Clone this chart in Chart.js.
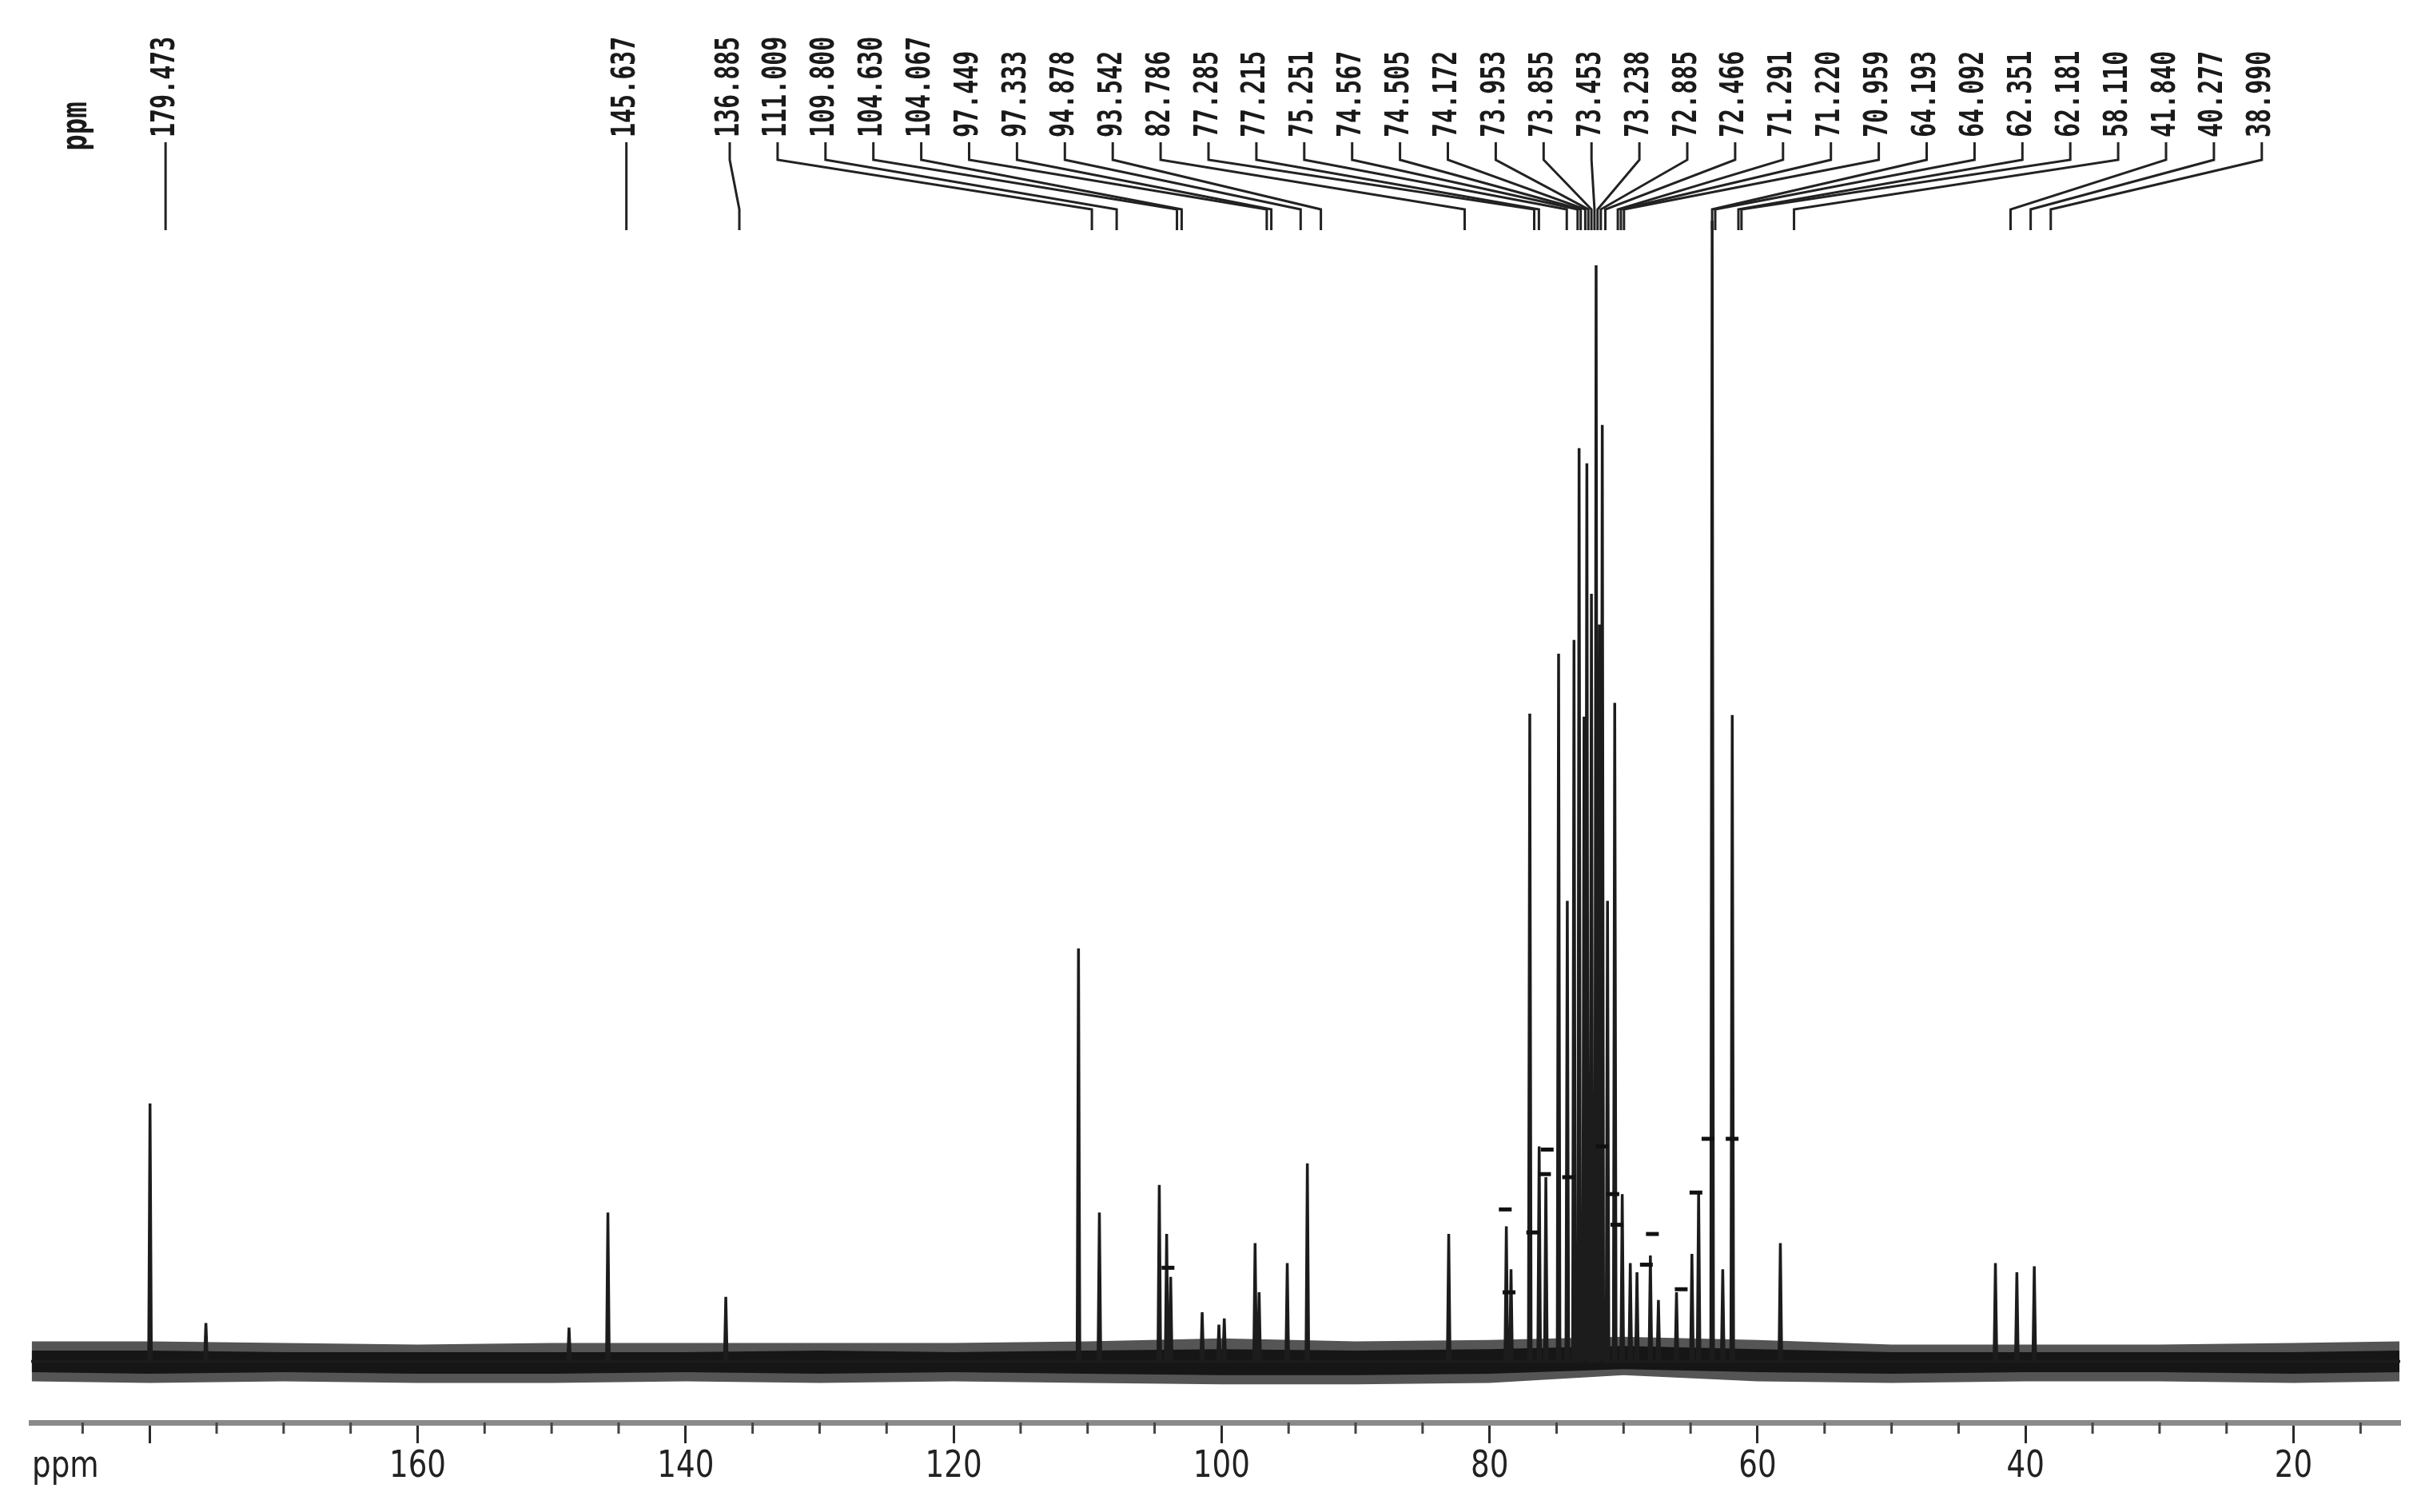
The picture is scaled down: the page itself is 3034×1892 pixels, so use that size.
<!DOCTYPE html>
<html>
<head>
<meta charset="utf-8">
<script src="https://cdn.jsdelivr.net/npm/chart.js@4.4.1/dist/chart.umd.min.js"></script>
<style>
html,body{margin:0;padding:0;background:#ffffff;}
#wrap{width:3034px;height:1892px;position:relative;background:#ffffff;}
</style>
</head>
<body>
<div id="wrap"><canvas id="c" width="3034" height="1892" style="width:3034px;height:1892px"></canvas></div>
<script>
// ---------------- data (ppm, intensity in arbitrary units) ----------------
const axisLeftPpm = 188.84;
const axisRightPpm = 12.04;
const majorTickValues = [180, 160, 140, 120, 100, 80, 60, 40, 20];
const tickLabels = {160:'160', 140:'140', 120:'120', 100:'100', 80:'80', 60:'60', 40:'40', 20:'20'};
const minorTickValues = [185,175,170,165,155,150,145,135,130,125,115,110,105,95,90,85,75,70,65,55,50,45,35,30,25,15];

const peakPpm = [179.97, 175.8, 148.7, 145.8, 137.0, 110.68, 109.12, 104.65, 104.1, 103.8,
                 101.45, 100.2, 99.8, 97.5, 97.2, 95.1, 93.6, 83.05, 78.75, 78.4,
                 77.0, 76.3, 75.8, 74.85, 74.2, 73.7, 73.32, 72.95, 72.74, 72.4,
                 72.05, 71.8, 71.59, 71.2, 70.66, 70.1, 69.5, 69.0, 68.0, 67.4,
                 66.05, 64.9, 64.4, 63.39, 62.6, 61.89, 58.3, 42.25, 40.65, 39.35];
const peakHeight = [168, 25, 22, 97, 42, 269, 97, 115, 83, 55,
                    32, 24, 28, 77, 45, 64, 129, 83, 88, 60,
                    422, 140, 120, 461, 300, 470, 595, 420, 585, 500,
                    714, 480, 610, 300, 429, 109, 64, 58, 69, 40,
                    45, 70, 111, 743, 60, 421, 77, 64, 58, 62];

const markerPpm = [104.0, 78.83, 78.55, 76.78, 75.9, 75.7, 74.1, 71.6, 70.8, 70.5, 68.3, 67.85, 65.7, 64.6, 63.7, 61.9];
const markerHeight = [61, 99, 45, 84, 122, 138, 120, 140, 109, 89, 63, 83, 47, 110, 145, 145];

// baseline noise envelope (outer) and dense core (inner)
const noisePpm        = [188.8, 180, 170, 160, 150, 140, 130, 120, 110, 100, 90, 80, 70, 60, 50, 40, 30, 20, 12.1];
const noiseUpper      = [13, 13, 12, 11, 12, 12, 12, 12, 13, 15, 13, 14, 16, 14, 11, 11, 11, 12, 13];
const noiseLower      = [-13, -14, -13, -14, -14, -13, -14, -13, -14, -15, -15, -14, -9, -13, -14, -13, -13, -14, -13];
const noiseInnerUpper = [7, 7, 6, 6, 6, 6, 7, 6, 7, 8, 7, 8, 10, 8, 6, 6, 6, 6, 7];
const noiseInnerLower = [-7, -8, -7, -8, -8, -7, -8, -7, -8, -9, -9, -8, -5, -7, -8, -7, -7, -8, -7];

const labelValues = ['179.473','145.637','136.885','111.009','109.800','104.630','104.067','97.449','97.333','94.878',
                     '93.542','82.786','77.285','77.215','75.251','74.567','74.505','74.172','73.953','73.855',
                     '73.453','73.238','72.885','72.466','71.291','71.220','70.959','64.193','64.092','62.351',
                     '62.181','58.110','41.840','40.277','38.990'];
const labelTipPpm = [178.81, 144.42, 135.99, 109.68, 107.83, 103.33, 102.98, 96.63, 96.29, 94.10,
                     92.59, 81.86, 76.67, 76.32, 74.24, 73.43, 73.20, 72.86, 72.63, 72.40,
                     72.17, 71.94, 71.70, 71.36, 70.43, 70.20, 69.97, 63.39, 63.16, 61.43,
                     61.20, 57.28, 41.12, 39.62, 38.12];

// ---------------- build datasets ----------------
const order = peakPpm.map((p, i) => i).sort((a, b) => peakPpm[b] - peakPpm[a]);
const peakHalfWidth = 0.1;
const spectrum = [{x: axisLeftPpm, y: 0}];
order.forEach(i => {
  spectrum.push({x: peakPpm[i] + peakHalfWidth, y: 0});
  spectrum.push({x: peakPpm[i], y: peakHeight[i]});
  spectrum.push({x: peakPpm[i] - peakHalfWidth, y: 0});
});
spectrum.push({x: axisRightPpm, y: 0});

const toPts = arr => noisePpm.map((p, i) => ({x: p, y: arr[i]}));
const markers = markerPpm.map((p, i) => ({x: p, y: markerHeight[i]}));

// ---------------- layout constants ----------------
const LABEL_BOTTOM = 172;
const LEADER_TOP = 178, LEADER_KNEE1 = 200, LEADER_KNEE2 = 262, LEADER_END = 288;
const GROUP_START_X = 913, GROUP_SPACING = 59.9;
const AXIS_LABEL_Y = 1836;

const annotations = {
  id: 'annotations',
  afterDraw(chart) {
    const ctx = chart.ctx;
    const xs = chart.scales.x;
    const axisY = chart.chartArea.bottom;
    ctx.save();
    // minor ticks
    ctx.strokeStyle = '#444';
    ctx.lineWidth = 3;
    minorTickValues.forEach(v => {
      const px = xs.getPixelForValue(v);
      ctx.beginPath(); ctx.moveTo(px, axisY); ctx.lineTo(px, axisY + 14); ctx.stroke();
    });
    // tick labels (condensed)
    ctx.fillStyle = '#222';
    ctx.font = '46px "Liberation Sans Narrow", "DejaVu Sans Condensed", sans-serif';
    ctx.textAlign = 'center';
    ctx.textBaseline = 'middle';
    xs.ticks.forEach(t => {
      const txt = tickLabels[t.value];
      if (!txt) return;
      const px = xs.getPixelForValue(t.value);
      ctx.save();
      ctx.translate(px, AXIS_LABEL_Y);
      ctx.scale(0.9, 1);
      ctx.fillText(txt, 0, 0);
      ctx.restore();
    });
    // bottom "ppm"
    ctx.save();
    ctx.translate(40, 1836);
    ctx.scale(0.9, 1);
    ctx.textAlign = 'left';
    ctx.textBaseline = 'middle';
    ctx.fillText('ppm', 0, 0);
    ctx.restore();
    // top-left rotated "ppm"
    ctx.save();
    ctx.translate(97, 158);
    ctx.rotate(-Math.PI / 2);
    ctx.scale(1, 1.3);
    ctx.font = 'bold 34px "DejaVu Sans Mono", monospace';
    ctx.textBaseline = 'middle';
    ctx.fillStyle = '#1a1a1a';
    ctx.fillText('ppm', 0, 0);
    ctx.restore();
    // peak labels and leader lines
    ctx.strokeStyle = '#222';
    ctx.lineWidth = 3;
    labelValues.forEach((txt, i) => {
      const tipX = xs.getPixelForValue(labelTipPpm[i]);
      const lx = i < 2 ? tipX : GROUP_START_X + (i - 2) * GROUP_SPACING;
      ctx.save();
      ctx.translate(lx, LABEL_BOTTOM);
      ctx.rotate(-Math.PI / 2);
      ctx.scale(1, 1.35);
      ctx.font = 'bold 30px "DejaVu Sans Mono", monospace';
      ctx.textAlign = 'left';
      ctx.textBaseline = 'middle';
      ctx.fillStyle = '#1a1a1a';
      ctx.fillText(txt, 0, 0);
      ctx.restore();
      ctx.beginPath();
      ctx.moveTo(lx, LEADER_TOP);
      ctx.lineTo(lx, LEADER_KNEE1);
      ctx.lineTo(tipX, LEADER_KNEE2);
      ctx.lineTo(tipX, LEADER_END);
      ctx.stroke();
    });
    ctx.restore();
  }
};

new Chart(document.getElementById('c'), {
  type: 'line',
  data: {
    datasets: [
      {data: toPts(noiseLower), borderWidth: 0, pointRadius: 0, fill: false, order: 4, borderColor: 'rgba(0,0,0,0)'},
      {data: toPts(noiseUpper), borderWidth: 0, pointRadius: 0, fill: '-1', order: 4, backgroundColor: '#555555', borderColor: 'rgba(0,0,0,0)'},
      {data: toPts(noiseInnerLower), borderWidth: 0, pointRadius: 0, fill: false, order: 3, borderColor: 'rgba(0,0,0,0)'},
      {data: toPts(noiseInnerUpper), borderWidth: 0, pointRadius: 0, fill: '-1', order: 3, backgroundColor: '#161616', borderColor: 'rgba(0,0,0,0)'},
      {data: spectrum, borderColor: '#1c1c1c', borderWidth: 3.5, pointRadius: 0, fill: false, tension: 0, order: 1},
      {type: 'scatter', data: markers, pointStyle: 'line', pointRadius: 8, borderWidth: 5, borderColor: '#111', backgroundColor: '#111', order: 0}
    ]
  },
  options: {
    responsive: false,
    devicePixelRatio: 1,
    animation: false,
    events: [],
    layout: {padding: {left: 39, right: 31, top: 0, bottom: 0}},
    plugins: {legend: {display: false}, tooltip: {enabled: false}},
    scales: {
      x: {
        type: 'linear',
        reverse: true,
        min: axisRightPpm,
        max: axisLeftPpm,
        afterBuildTicks: s => { s.ticks = majorTickValues.map(v => ({value: v})); },
        afterFit: s => { s.height = 112; },
        border: {display: true, color: '#8a8a8a', width: 7},
        grid: {display: true, drawOnChartArea: false, drawTicks: true, tickLength: 26, tickColor: '#2a2a2a', tickWidth: 3},
        ticks: {display: false}
      },
      y: {
        display: false,
        min: -39.8,
        max: 880.1
      }
    }
  },
  plugins: [annotations]
});
</script>
</body>
</html>
